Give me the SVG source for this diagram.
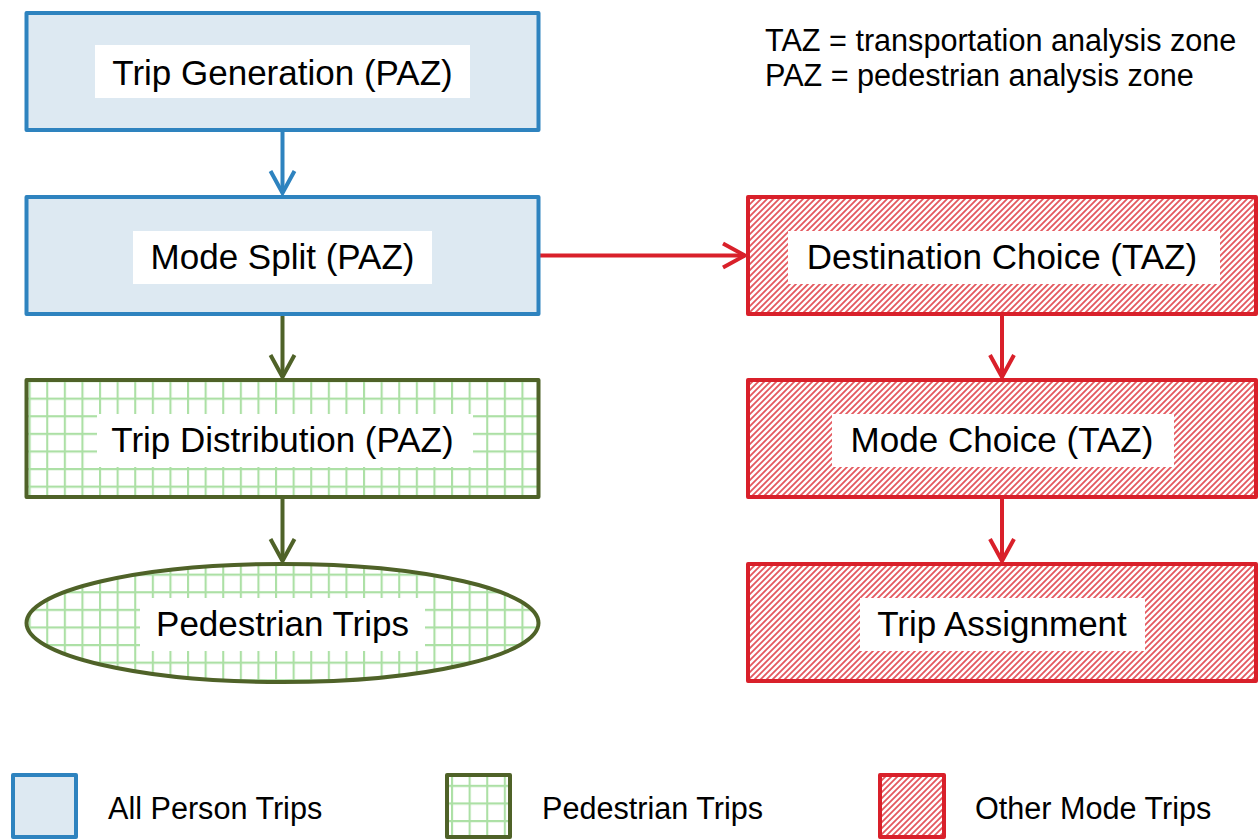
<svg xmlns="http://www.w3.org/2000/svg" width="1260" height="840" viewBox="0 0 1260 840">
<style>
text{font-family:"Liberation Sans",Arial,sans-serif;fill:#000}
.lbl{font-size:35px;text-anchor:middle}
.note{font-size:30.6px}
.blue{fill:#dde9f2;stroke:#2e83bf;stroke-width:4;stroke-linejoin:round}
.green{fill:url(#grid);stroke:#4f6228;stroke-width:4;stroke-linejoin:round}
.red{fill:url(#hatch);stroke:#d9202a;stroke-width:4;stroke-linejoin:round}
.lb{fill:#fff}
.cb{stroke:#2e83bf;stroke-width:4;fill:none}
.cg{stroke:#4f6228;stroke-width:4;fill:none}
.cr{stroke:#d9202a;stroke-width:4;fill:none}
</style>
<defs>
<pattern id="grid" patternUnits="userSpaceOnUse" x="11" y="380" width="17.6" height="17.6">
<rect width="17.6" height="17.6" fill="#fff"/>
<path d="M0,1 H17.6 M1,0 V17.6" stroke="#ace0a5" stroke-width="2.2"/>
</pattern>
<pattern id="hatch" patternUnits="userSpaceOnUse" width="6" height="6">
<rect width="6" height="6" fill="#fff"/>
<path d="M-1.5,1.5 L1.5,-1.5 M0,6 L6,0 M4.5,7.5 L7.5,4.5" stroke="#e4585e" stroke-width="1.8"/>
</pattern>
<marker id="ab" markerUnits="userSpaceOnUse" markerWidth="30" markerHeight="30" viewBox="-26 -15 30 30" refX="0" refY="0" orient="auto">
<path d="M-22,-12 L0,0 L-22,12" fill="none" stroke="#2e83bf" stroke-width="4"/>
</marker>
<marker id="ag" markerUnits="userSpaceOnUse" markerWidth="30" markerHeight="30" viewBox="-26 -15 30 30" refX="0" refY="0" orient="auto">
<path d="M-22,-12 L0,0 L-22,12" fill="none" stroke="#4f6228" stroke-width="4"/>
</marker>
<marker id="ar" markerUnits="userSpaceOnUse" markerWidth="30" markerHeight="30" viewBox="-26 -15 30 30" refX="0" refY="0" orient="auto">
<path d="M-22,-12 L0,0 L-22,12" fill="none" stroke="#d9202a" stroke-width="4"/>
</marker>
</defs>
<rect width="1260" height="840" fill="#fff"/>

<g id="connectors">
<path class="cb" d="M282.5,130 V193" marker-end="url(#ab)"/>
<path class="cg" d="M282.5,314 V377" marker-end="url(#ag)"/>
<path class="cg" d="M282.5,498 V561" marker-end="url(#ag)"/>
<path class="cr" d="M539,255.5 H745" marker-end="url(#ar)"/>
<path class="cr" d="M1002,314 V377" marker-end="url(#ar)"/>
<path class="cr" d="M1002,498 V561" marker-end="url(#ar)"/>
</g>

<g id="trip-generation">
<rect class="blue" x="26.5" y="13" width="512" height="117"/>
<rect class="lb" x="95" y="45" width="375" height="53"/>
<text class="lbl" x="282.5" y="85">Trip Generation (PAZ)</text>
</g>
<g id="mode-split">
<rect class="blue" x="26.5" y="197" width="512" height="117"/>
<rect class="lb" x="133" y="231" width="299" height="53"/>
<text class="lbl" x="282.5" y="269">Mode Split (PAZ)</text>
</g>
<g id="trip-distribution">
<rect class="green" x="26.5" y="380" width="512" height="117"/>
<rect class="lb" x="97" y="414" width="376" height="53"/>
<text class="lbl" x="282.5" y="452">Trip Distribution (PAZ)</text>
</g>
<g id="pedestrian-trips">
<ellipse class="green" cx="282.5" cy="623" rx="256" ry="59"/>
<rect class="lb" x="140" y="598" width="285" height="53"/>
<text class="lbl" x="282.5" y="636">Pedestrian Trips</text>
</g>
<g id="destination-choice">
<rect class="red" x="748" y="197" width="508" height="117"/>
<rect class="lb" x="788" y="231" width="432" height="53"/>
<text class="lbl" x="1002" y="269">Destination Choice (TAZ)</text>
</g>
<g id="mode-choice">
<rect class="red" x="748" y="380" width="508" height="117"/>
<rect class="lb" x="832" y="414" width="342" height="53"/>
<text class="lbl" x="1002" y="452">Mode Choice (TAZ)</text>
</g>
<g id="trip-assignment">
<rect class="red" x="748" y="564" width="508" height="117"/>
<rect class="lb" x="860" y="598" width="285" height="53"/>
<text class="lbl" x="1002" y="636">Trip Assignment</text>
</g>

<g id="notes">
<text class="note" x="765" y="51">TAZ = transportation analysis zone</text>
<text class="note" x="765" y="86">PAZ = pedestrian analysis zone</text>
</g>

<g id="legend">
<rect class="blue" x="13" y="775" width="63" height="62"/>
<text class="note" x="108" y="819">All Person Trips</text>
<rect class="green" x="447" y="775" width="63" height="62"/>
<text class="note" x="542" y="819">Pedestrian Trips</text>
<rect class="red" x="880" y="775" width="64" height="62"/>
<text class="note" x="975" y="819">Other Mode Trips</text>
</g>
</svg>
